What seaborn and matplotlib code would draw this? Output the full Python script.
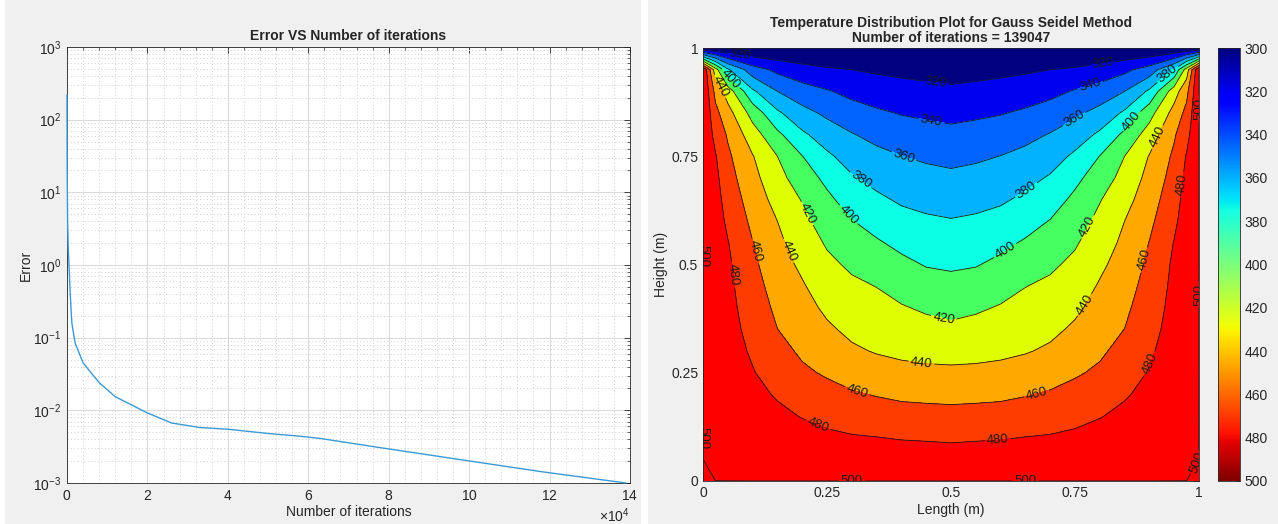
import numpy as np
import matplotlib
matplotlib.use('Agg')
import matplotlib.pyplot as plt
import seaborn as sns
from matplotlib.ticker import ScalarFormatter, AutoMinorLocator, LogLocator, NullFormatter, FixedLocator
from matplotlib.patches import Rectangle
from matplotlib.colors import Normalize

# error history
iters = [0, 50, 150, 300, 500, 800, 1200, 2000, 4000, 8000, 12000, 20000, 26000,
         33000, 40000, 50000, 58000, 63000, 79000, 98500, 118000, 139047]
errors = [220, 20, 4, 1.8, 1.0, 0.4, 0.16, 0.085, 0.045, 0.024, 0.0154, 0.0092, 0.0067,
          0.0058, 0.0055, 0.0048, 0.0044, 0.0041, 0.0030, 0.00207, 0.00143, 0.001]
n_iter = 139047

# temperature field, left half of the plate, mirrored later
x_half = [0, 0.025, 0.05, 0.1, 0.15, 0.2, 0.25, 0.3, 0.35, 0.4, 0.45, 0.5]
y_rows = [0, 0.05, 0.1, 0.15, 0.2, 0.25, 0.3, 0.35, 0.4, 0.45, 0.5, 0.55, 0.6, 0.65,
          0.7, 0.75, 0.8, 0.85, 0.9, 0.95, 1.0]
T_half = [
    [500, 500.0, 500.0, 500.0, 500.0, 500.0, 500.0, 500.0, 500.0, 500.0, 500.0, 500.0],
    [500, 499.3, 498.5, 496.2, 494.6, 493.1, 491.8, 490.7, 490.2, 489.5, 489.1, 488.6],
    [500, 498.5, 497.0, 492.5, 489.2, 486.2, 483.6, 481.5, 480.4, 478.9, 478.2, 477.3],
    [500, 497.5, 495.0, 488.7, 483.9, 479.2, 475.0, 471.8, 469.7, 467.5, 466.7, 465.9],
    [500, 496.3, 492.6, 484.9, 478.3, 471.2, 466.2, 462.0, 458.9, 456.3, 455.3, 454.7],
    [500, 495.1, 490.3, 481.1, 472.3, 463.2, 457.8, 452.4, 448.4, 445.3, 444.0, 443.6],
    [500, 494.1, 488.2, 477.6, 466.3, 457.0, 450.4, 442.9, 438.7, 436.2, 434.6, 433.5],
    [500, 493.3, 486.7, 474.2, 460.2, 451.9, 443.0, 435.8, 432.4, 428.8, 426.1, 423.8],
    [500, 492.9, 485.7, 470.8, 456.1, 446.9, 436.4, 429.7, 426.1, 421.5, 417.4, 414.7],
    [500, 492.3, 484.6, 467.4, 452.1, 441.8, 430.3, 423.6, 419.6, 413.0, 408.0, 405.8],
    [500, 491.7, 483.3, 463.9, 448.1, 436.4, 424.2, 416.8, 410.9, 404.3, 398.9, 397.3],
    [500, 490.4, 480.8, 460.5, 444.1, 430.7, 417.9, 408.8, 402.1, 395.5, 390.9, 389.2],
    [500, 489.1, 476.5, 455.8, 440.0, 425.0, 411.0, 400.8, 392.9, 386.4, 382.9, 381.1],
    [500, 487.5, 472.2, 450.9, 433.3, 418.9, 404.1, 391.4, 383.6, 377.4, 374.5, 372.6],
    [500, 484.8, 467.8, 445.9, 426.7, 409.6, 395.3, 381.9, 374.3, 368.9, 366.0, 364.0],
    [500, 481.5, 463.5, 441.0, 420.0, 400.4, 383.5, 371.6, 365.0, 360.3, 357.0, 354.8],
    [500, 473.5, 457.9, 429.2, 404.4, 383.4, 370.3, 361.1, 354.6, 349.7, 347.0, 345.0],
    [500, 465.5, 447.4, 412.4, 383.3, 366.2, 356.2, 348.3, 342.8, 338.9, 336.7, 334.7],
    [500, 454.3, 430.6, 383.4, 360.0, 348.6, 341.5, 334.7, 330.5, 327.6, 325.6, 323.7],
    [500, 428.9, 382.9, 348.6, 335.3, 327.0, 322.4, 320.0, 317.2, 315.2, 313.3, 312.0],
    [300, 300.0, 300.0, 300.0, 300.0, 300.0, 300.0, 300.0, 300.0, 300.0, 300.0, 300.0],
]
levels = [300, 320, 340, 360, 380, 400, 420, 440, 460, 480, 500]
line_levels = [320, 340, 360, 380, 400, 420, 440, 460, 480, 499.99]  # last one = 500 edge
tick_pos = [0, 0.25, 0.5, 0.75, 1]
tick_lbl = ['0', '0.25', '0.5', '0.75', '1']

# where the inline labels sit (approx. label spots in the reference)
label_spots = [
    (0.47, 0.917), (0.805, 0.967), (0.075, 0.988),
    (0.46, 0.833), (0.78, 0.918),
    (0.404, 0.746), (0.744, 0.845),
    (0.323, 0.703), (0.655, 0.667), (0.935, 0.942),
    (0.292, 0.614), (0.615, 0.522), (0.861, 0.834), (0.058, 0.933),
    (0.212, 0.619), (0.484, 0.37), (0.78, 0.584),
    (0.038, 0.914), (0.175, 0.533), (0.44, 0.27), (0.77, 0.406), (0.915, 0.795),
    (0.111, 0.533), (0.31, 0.206), (0.673, 0.199), (0.891, 0.51),
    (0.06, 0.476), (0.232, 0.129), (0.595, 0.088), (0.907, 0.268), (0.968, 0.684),
    (0.0, 0.52), (0.0, 0.1), (0.3, 0.0), (0.65, 0.0), (1.0, 0.86), (1.0, 0.43), (1.0, 0.04),
]

# band colours as they appear in the filled map (low -> high)
band_colors = ['#000080', '#0000f0', '#0062ff', '#00b2ff', '#0affe4',
               '#46ff60', '#deff00', '#ffa800', '#ff3c00', '#ff0000']

# mirror the half plate about x = 0.5
T_half = np.array(T_half)
T = np.hstack([T_half, T_half[:, -2::-1]])
xs = np.array(x_half + [1 - v for v in x_half[-2::-1]])
ys = np.array(y_rows)

sns.set_theme(style='white')
plt.rcParams['font.family'] = ['Liberation Sans', 'DejaVu Sans']
plt.rcParams['mathtext.fontset'] = 'custom'
plt.rcParams['mathtext.rm'] = 'Liberation Sans'
plt.rcParams['axes.unicode_minus'] = False

fig = plt.figure(figsize=(12.78, 5.24), dpi=100, facecolor='white')
# two grey panel backgrounds like the original screenshots
fig.patches.append(Rectangle((5 / 1278, 0), 636 / 1278, 1, transform=fig.transFigure,
                             facecolor='#f0f0f0', edgecolor='none', zorder=-10))
fig.patches.append(Rectangle((648 / 1278, 0), 630 / 1278, 1, transform=fig.transFigure,
                             facecolor='#f0f0f0', edgecolor='none', zorder=-10))

dark = '#262626'

# ---------- left: error vs iterations ----------
ax1 = fig.add_axes([67 / 1278, 1 - 483 / 524, 563 / 1278, 436 / 524])
ax1.set_facecolor('white')
sns.lineplot(x=iters, y=errors, ax=ax1, color='#3b9ad6', linewidth=1.0, zorder=3,
             clip_on=False)
ax1.set_yscale('log')
ax1.set_xlim(0, 140000)
ax1.set_ylim(1e-3, 1e3)
ax1.xaxis.set_major_locator(FixedLocator(np.arange(0, 140001, 20000)))
fmt = ScalarFormatter(useMathText=True)
fmt.set_powerlimits((4, 4))
ax1.xaxis.set_major_formatter(fmt)
ax1.xaxis.set_minor_locator(AutoMinorLocator(5))
ax1.yaxis.set_major_locator(LogLocator(base=10, numticks=20))
ax1.yaxis.set_minor_locator(LogLocator(base=10, subs=np.arange(2, 10), numticks=20))
ax1.yaxis.set_minor_formatter(NullFormatter())
ax1.grid(True, which='major', color='#d9d9d9', linewidth=0.7, linestyle='-')
ax1.grid(True, which='minor', color='#d0d0d0', linewidth=0.7, linestyle=(0, (1, 2.5)))
ax1.set_axisbelow(True)
ax1.tick_params(which='both', direction='in', top=True, right=True, colors=dark,
                labelsize=10, labelcolor=dark)
ax1.tick_params(which='major', length=4, width=0.6, pad=4)
ax1.tick_params(which='minor', length=2, width=0.5)
ax1.xaxis.get_offset_text().set_fontsize(10)
ax1.xaxis.get_offset_text().set_color(dark)
for s in ax1.spines.values():
    s.set_color(dark)
    s.set_linewidth(0.6)
ax1.set_title('Error VS Number of iterations', fontsize=10, fontweight='bold', pad=5)
ax1.set_xlabel('Number of iterations', fontsize=10, color=dark, labelpad=2)
ax1.set_ylabel('Error', fontsize=10, color=dark, labelpad=0)

# ---------- right: temperature contour ----------
ax2 = fig.add_axes([703 / 1278, 1 - 481 / 524, 496 / 1278, 433 / 524])
ax2.contourf(xs, ys, T, levels=levels, colors=band_colors)
cs = ax2.contour(xs, ys, T, levels=line_levels, colors='k', linewidths=0.6)
ax2.clabel(cs, fmt=lambda v: f'{v:.0f}', fontsize=9.5, inline=True, inline_spacing=2,
           colors='k', manual=label_spots)
ax2.set_xlim(0, 1)
ax2.set_ylim(0, 1)
ax2.set_xticks(tick_pos)
ax2.set_xticklabels(tick_lbl)
ax2.set_yticks(tick_pos)
ax2.set_yticklabels(tick_lbl)
ax2.tick_params(direction='in', length=4, width=0.6, top=True, right=True,
                labelsize=10, colors=dark, labelcolor=dark)
for s in ax2.spines.values():
    s.set_color(dark)
    s.set_linewidth(0.6)
ax2.set_title('Temperature Distribution Plot for Gauss Seidel Method\n'
              f'Number of iterations = {n_iter}', fontsize=10, fontweight='bold',
              pad=4, linespacing=1.15)
ax2.set_xlabel('Length (m)', fontsize=10, color=dark, labelpad=2)
ax2.set_ylabel('Height (m)', fontsize=10, color=dark, labelpad=2)

cax = fig.add_axes([1218 / 1278, 1 - 481 / 524, 22 / 1278, 433 / 524])
sm = plt.cm.ScalarMappable(norm=Normalize(300, 500), cmap='jet')
cb = fig.colorbar(sm, cax=cax, ticks=levels)
cax.invert_yaxis()
cb.outline.set_edgecolor(dark)
cb.outline.set_linewidth(0.6)
cax.tick_params(direction='in', length=3, width=0.6, labelsize=10, colors=dark,
                labelcolor=dark)

fig.savefig('out.png', dpi=100, facecolor=fig.get_facecolor())
